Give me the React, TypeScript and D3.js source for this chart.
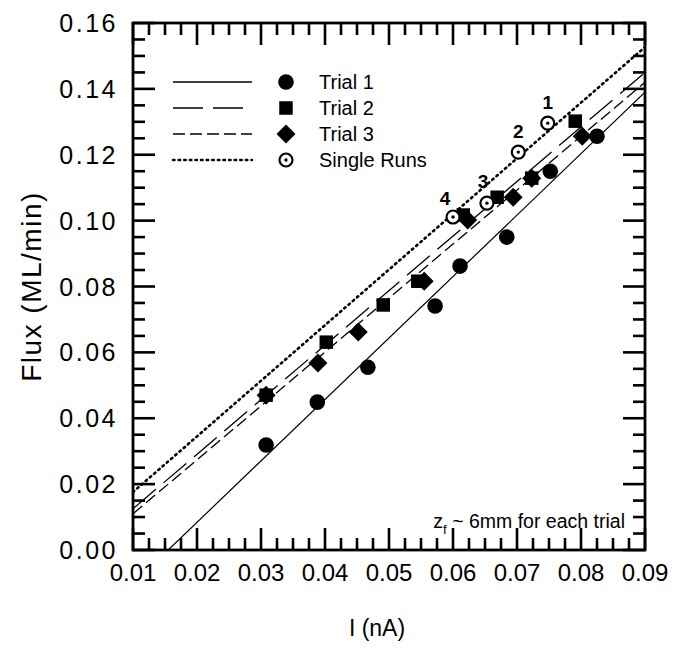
import React from "react";
import * as d3 from "d3";

// ---- data ----
const xTickValues = [0.01, 0.02, 0.03, 0.04, 0.05, 0.06, 0.07, 0.08, 0.09];
const yTickValues = [0, 0.02, 0.04, 0.06, 0.08, 0.1, 0.12, 0.14, 0.16];

const trial1X = [0.0308, 0.0388, 0.0467, 0.0572, 0.0611, 0.0684, 0.0752, 0.0825];
const trial1Y = [0.0319, 0.0449, 0.0555, 0.0741, 0.0862, 0.095, 0.115, 0.1256];
const trial2X = [0.0308, 0.0402, 0.0491, 0.0545, 0.0616, 0.0669, 0.0723, 0.0791];
const trial2Y = [0.047, 0.0631, 0.0744, 0.0816, 0.1017, 0.1071, 0.1129, 0.1302];
const trial3X = [0.0308, 0.0389, 0.0452, 0.0555, 0.0623, 0.0694, 0.0723, 0.0802];
const trial3Y = [0.047, 0.0568, 0.0662, 0.0816, 0.1002, 0.1071, 0.1129, 0.1256];
const singleX = [0.0748, 0.0702, 0.0653, 0.06];
const singleY = [0.1296, 0.1208, 0.1053, 0.1011];
const singleLabels = ["1", "2", "3", "4"];

// fitted lines (end points)
const fit1X = [0.0155, 0.09];
const fit1Y = [0, 0.139];
const fit2X = [0.01, 0.09];
const fit2Y = [0.0125, 0.145];
const fit3X = [0.01, 0.09];
const fit3Y = [0.011, 0.142];
const fitSX = [0.01, 0.09];
const fitSY = [0.0176, 0.1527];

const legendLabels = ["Trial 1", "Trial 2", "Trial 3", "Single Runs"];

const W = 680;
const H = 654;
const M = { left: 133, right: 35, top: 23, bottom: 104 };
const FONT = "'Liberation Sans', Arial, Helvetica, sans-serif";

const xScale = d3.scaleLinear().domain([0.01, 0.09]).range([M.left, W - M.right]);
const yScale = d3.scaleLinear().domain([0, 0.16]).range([H - M.bottom, M.top]);

const zip = (xs: number[], ys: number[]) => xs.map((v, i) => [v, ys[i]] as [number, number]);
const lineGen = d3
  .line<[number, number]>()
  .x((d) => xScale(d[0]))
  .y((d) => yScale(d[1]));

const DASH1 = "none";
const DASH2 = "30 10";
const DASH3 = "12 5";
const DASHS = "1.6 4";

function Circle({ cx, cy }: { cx: number; cy: number }) {
  return <circle cx={cx} cy={cy} r={7.8} fill="#000" />;
}
function Square({ cx, cy }: { cx: number; cy: number }) {
  const s = 13.5;
  return <rect x={cx - s / 2} y={cy - s / 2} width={s} height={s} fill="#000" />;
}
function Diamond({ cx, cy }: { cx: number; cy: number }) {
  const r = 9.5;
  return <path d={`M${cx},${cy - r}L${cx + r},${cy}L${cx},${cy + r}L${cx - r},${cy}Z`} fill="#000" />;
}
function Target({ cx, cy }: { cx: number; cy: number }) {
  return (
    <g>
      <circle cx={cx} cy={cy} r={6.5} fill="#fff" stroke="#000" strokeWidth={2.2} />
      <circle cx={cx} cy={cy} r={1.7} fill="#000" />
    </g>
  );
}

const MAJ = 22;
const MIN = 12;
const TW = 2.6;
const TICK_COLOR = "#000";

export default function App() {
  const left = M.left;
  const right = W - M.right;
  const bottom = H - M.bottom;
  const top = M.top;

  const xMinor = d3.range(0, 33).map((i) => 0.01 + i * 0.0025);
  const yMinor = d3.range(0, 33).map((i) => i * 0.005);

  const tickRects: React.ReactElement[] = [];
  xMinor.forEach((v, i) => {
    const len = i % 4 === 0 ? MAJ : MIN;
    const px = xScale(v);
    tickRects.push(
      <rect key={"tb" + i} x={px - TW / 2} y={bottom - len} width={TW} height={len} fill={TICK_COLOR} />,
      <rect key={"tt" + i} x={px - TW / 2} y={top} width={TW} height={len} fill={TICK_COLOR} />
    );
  });
  yMinor.forEach((v, i) => {
    const len = i % 4 === 0 ? MAJ : MIN;
    const py = yScale(v);
    tickRects.push(
      <rect key={"tl" + i} x={left} y={py - TW / 2} width={len} height={TW} fill={TICK_COLOR} />,
      <rect key={"tr" + i} x={right - len} y={py - TW / 2} width={len} height={TW} fill={TICK_COLOR} />
    );
  });

  const legendRows = [
    { dash: DASH1, mark: "circle" },
    { dash: DASH2, mark: "square" },
    { dash: DASH3, mark: "diamond" },
    { dash: DASHS, mark: "target" },
  ];
  const labelOffsets = [
    [0, -14],
    [0, -14],
    [-4, -15],
    [-8, -12],
  ];

  const renderMark = (kind: string, cx: number, cy: number, key: string) => {
    if (kind === "circle") return <Circle key={key} cx={cx} cy={cy} />;
    if (kind === "square") return <Square key={key} cx={cx} cy={cy} />;
    if (kind === "diamond") return <Diamond key={key} cx={cx} cy={cy} />;
    return <Target key={key} cx={cx} cy={cy} />;
  };

  return (
    <svg
      width={W}
      height={H}
      style={{ position: "absolute", left: 0, top: 0, background: "#fff" }}
      fontFamily={FONT}
    >
      <rect width={W} height={H} fill="#fff" />
      <defs>
        <clipPath id="plot">
          <rect x={left} y={top} width={right - left} height={bottom - top} />
        </clipPath>
      </defs>

      {/* fit lines */}
      <g clipPath="url(#plot)" fill="none" stroke="#000">
        <path d={lineGen(zip(fit1X, fit1Y)) || ""} strokeWidth={1.2} strokeDasharray={DASH1} />
        <path d={lineGen(zip(fit2X, fit2Y)) || ""} strokeWidth={1.3} strokeDasharray={DASH2} />
        <path d={lineGen(zip(fit3X, fit3Y)) || ""} strokeWidth={1.3} strokeDasharray={DASH3} />
        <path
          d={lineGen(zip(fitSX, fitSY)) || ""}
          strokeWidth={2.6}
          strokeDasharray={DASHS}
          strokeLinecap="round"
        />
      </g>

      {/* markers */}
      <g>
        {trial1X.map((v, i) => renderMark("circle", xScale(v), yScale(trial1Y[i]), "a" + i))}
        {trial2X.map((v, i) => renderMark("square", xScale(v), yScale(trial2Y[i]), "b" + i))}
        {trial3X.map((v, i) => renderMark("diamond", xScale(v), yScale(trial3Y[i]), "c" + i))}
        {singleX.map((v, i) => renderMark("target", xScale(v), yScale(singleY[i]), "d" + i))}
        {singleX.map((v, i) => (
          <text
            key={"l" + i}
            x={xScale(v) + labelOffsets[i][0]}
            y={yScale(singleY[i]) + labelOffsets[i][1]}
            fontSize={19}
            fontWeight={600}
            textAnchor="middle"
          >
            {singleLabels[i]}
          </text>
        ))}
      </g>

      {/* frame and ticks */}
      <g>{tickRects}</g>
      <rect
        x={left}
        y={top}
        width={right - left}
        height={bottom - top}
        fill="none"
        stroke="#000"
        strokeWidth={2.8}
      />

      {/* tick labels */}
      <g fill="#000">
        {xTickValues.map((v, i) => (
          <text key={"xl" + i} x={xScale(v)} y={bottom + 31} textAnchor="middle" fontSize={24}>
            {d3.format(".2f")(v)}
          </text>
        ))}
        {yTickValues.map((v, i) => (
          <text
            key={"yl" + i}
            x={left - 15}
            y={yScale(v) + 9}
            textAnchor="end"
            fontSize={25}
            letterSpacing={2.5}
          >
            {d3.format(".2f")(v)}
          </text>
        ))}
      </g>

      {/* axis titles */}
      <text x={377} y={H - 18} fontSize={23} textAnchor="middle">
        I (nA)
      </text>
      <text
        transform={`translate(41, ${(bottom + top) / 2}) rotate(-90)`}
        fontSize={28}
        letterSpacing={1.5}
        textAnchor="middle"
      >
        Flux (ML/min)
      </text>

      {/* legend */}
      <g>
        {legendRows.map((r, i) => {
          const ly = 82 + i * 26;
          return (
            <g key={"lg" + i}>
              <line
                x1={173}
                x2={252}
                y1={ly}
                y2={ly}
                stroke="#000"
                strokeWidth={i === 3 ? 2.4 : 1.3}
                strokeDasharray={r.dash}
                strokeLinecap={i === 3 ? "round" : "butt"}
              />
              {renderMark(r.mark, 286, ly, "lm" + i)}
              <text x={319} y={ly + 7} fontSize={20}>
                {legendLabels[i]}
              </text>
            </g>
          );
        })}
      </g>

      {/* annotation */}
      <text x={right - 20} y={bottom - 22} fontSize={19.5} textAnchor="end">
        <tspan>z</tspan>
        <tspan dy={6} fontSize={13}>f</tspan>
        <tspan dy={-6}> ~ 6mm for each trial</tspan>
      </text>
    </svg>
  );
}
